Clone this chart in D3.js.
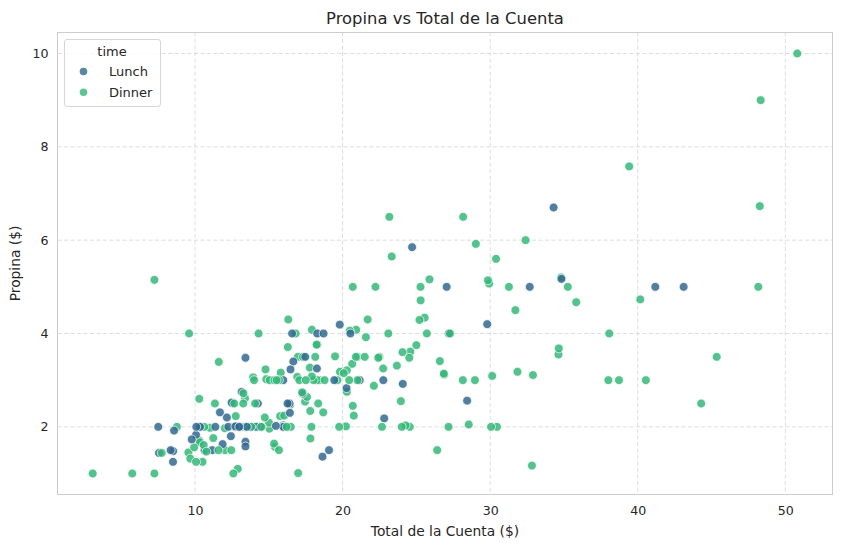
<!DOCTYPE html>
<html>
<head>
<meta charset="utf-8">
<script src="https://cdn.jsdelivr.net/npm/d3@7"></script>
<style>
  body { margin: 0; background: #fff; }
  svg { font-family: "DejaVu Sans", sans-serif; }
</style>
</head>
<body>
<script>
// tips dataset: total bill, tip and meal time, in row order
var bills = [16.99,10.34,21.01,23.68,24.59,25.29,8.77,26.88,15.04,14.78,10.27,35.26,15.42,18.43,14.83,21.58,10.33,16.29,16.97,20.65,
  17.92,20.29,15.77,39.42,19.82,17.81,13.37,12.69,21.7,19.65,9.55,18.35,15.06,20.69,17.78,24.06,16.31,16.93,18.69,31.27,
  16.04,17.46,13.94,9.68,30.4,18.29,22.23,32.4,28.55,18.04,12.54,10.29,34.81,9.94,25.56,19.49,38.01,26.41,11.24,48.27,
  20.29,13.81,11.02,18.29,17.59,20.08,16.45,3.07,20.23,15.01,12.02,17.07,26.86,25.28,14.73,10.51,17.92,27.2,22.76,17.29,
  19.44,16.66,10.07,32.68,15.98,34.83,13.03,18.28,24.71,21.16,28.97,22.49,5.75,16.32,22.75,40.17,27.28,12.03,21.01,12.46,
  11.35,15.38,44.3,22.42,20.92,15.36,20.49,25.21,18.24,14.31,14.0,7.25,38.07,23.95,25.71,17.31,29.93,10.65,12.43,24.08,
  11.69,13.42,14.26,15.95,12.48,29.8,8.52,14.52,11.38,22.82,19.08,20.27,11.17,12.26,18.26,8.51,10.33,14.15,16.0,13.16,
  17.47,34.3,41.19,27.05,16.43,8.35,18.64,11.87,9.78,7.51,14.07,13.13,17.26,24.55,19.77,29.85,48.17,25.0,13.39,16.49,
  21.5,12.66,16.21,13.81,17.51,24.52,20.76,31.71,10.59,10.63,50.81,15.81,7.25,31.85,16.82,32.9,17.89,14.48,9.6,34.63,
  34.65,23.33,45.35,23.17,40.55,20.69,20.9,30.46,18.15,23.1,15.69,19.81,28.44,15.48,16.58,7.56,10.34,43.11,13.0,13.51,
  18.71,12.74,13.0,16.4,20.53,16.47,26.59,38.73,24.27,12.76,30.06,25.89,48.33,13.27,28.17,12.9,28.15,11.59,7.74,30.14,
  12.16,13.42,8.58,15.98,13.42,16.27,10.09,20.45,13.28,22.12,24.01,15.69,11.61,10.77,15.53,10.07,12.6,32.83,35.83,29.03,
  27.18,22.67,17.82,18.78];
var tips = [1.01,1.66,3.5,3.31,3.61,4.71,2.0,3.12,1.96,3.23,1.71,5.0,1.57,3.0,3.02,3.92,1.67,3.71,3.5,3.35,
  4.08,2.75,2.23,7.58,3.18,2.34,2.0,2.0,4.3,3.0,1.45,2.5,3.0,2.45,3.27,3.6,2.0,3.07,2.31,5.0,
  2.24,2.54,3.06,1.32,5.6,3.0,5.0,6.0,2.05,3.0,2.5,2.6,5.2,1.56,4.34,3.51,3.0,1.5,1.76,6.73,
  3.21,2.0,1.98,3.76,2.64,3.15,2.47,1.0,2.01,2.09,1.97,3.0,3.14,5.0,2.2,1.25,3.08,4.0,3.0,2.71,
  3.0,3.4,1.83,5.0,2.03,5.17,2.0,4.0,5.85,3.0,3.0,3.5,1.0,4.3,3.25,4.73,4.0,1.5,3.0,1.5,
  2.5,3.0,2.5,3.48,4.08,1.64,4.06,4.29,3.76,4.0,3.0,1.0,4.0,2.55,4.0,3.5,5.07,1.5,1.8,2.92,
  2.31,1.68,2.5,2.0,2.52,4.2,1.48,2.0,2.0,2.18,1.5,2.83,1.5,2.0,3.25,1.25,2.0,2.0,2.0,2.75,
  3.5,6.7,5.0,5.0,2.3,1.5,1.36,1.63,1.73,2.0,2.5,2.0,2.74,2.0,2.0,5.14,5.0,3.75,2.61,2.0,
  3.5,2.5,2.0,2.0,3.0,3.48,2.24,4.5,1.61,2.0,10.0,3.16,5.15,3.18,4.0,3.11,2.0,2.0,4.0,3.55,
  3.68,5.65,3.5,6.5,3.0,5.0,3.5,2.0,3.5,4.0,1.5,4.19,2.56,2.02,4.0,1.44,2.0,5.0,2.0,2.0,
  4.0,2.01,2.0,2.5,4.0,3.23,3.41,3.0,2.03,2.23,2.0,5.16,9.0,2.5,6.5,1.1,3.0,1.5,1.44,3.09,
  2.2,3.48,1.92,3.0,1.58,2.5,2.0,3.0,2.72,2.88,2.0,3.0,3.39,1.47,3.0,1.25,1.0,1.17,4.67,5.92,
  2.0,2.0,1.75,3.0];
// L = Lunch, D = Dinner
var times = ("DDDDDDDDDDDDDDDDDDDD" + "DDDDDDDDDDDDDDDDDDDD" + "DDDDDDDDDDDDDDDDDDDD" + "DDDDDDDDDDDDDDDDDLLL" +
  "LLLLLLLLLLDDDDDDDDDD" + "DDDDDDDDDDDDDDDDDLLL" + "LLLLLLLLLLLLLLLLLLLL" + "LLLLLLLLLLDDDDDDDDDD" +
  "DDDDDDDDDDDDDDDDDDDD" + "DDDDDDDDDDDLLLLLLLLL" + "LLLLLLDDDDDDDDDDDDDD" + "LLLLLLLDDDDDDDDDDDDD" + "DDDD").split("");

var groups = ['Lunch', 'Dinner'];
var colors = ['#31688e', '#35b779'];
var xTicks = [10, 20, 30, 40, 50];
var yTicks = [2, 4, 6, 8, 10];

var data = bills.map((b, i) => ({bill: b, tip: tips[i], time: times[i] == 'L' ? 'Lunch' : 'Dinner'}));

const w = 841;
const h = 547;
const mLeft = 57.5, mRight = 832.5, mTop = 32.5, mBottom = 494.5;

const svg = d3.select('body').append('svg').attr('width', w).attr('height', h);

var xMin = d3.min(bills), xMax = d3.max(bills);
var yMin = d3.min(tips), yMax = d3.max(tips);
var xPad = (xMax - xMin) * 0.05, yPad = (yMax - yMin) * 0.05;

const xScale = d3.scaleLinear().domain([xMin - xPad, xMax + xPad]).range([mLeft, mRight]);
const yScale = d3.scaleLinear().domain([yMin - yPad, yMax + yPad]).range([mBottom, mTop]);
const color = d3.scaleOrdinal().domain(groups).range(colors);

// grid
svg.append('g').selectAll('line').data(xTicks).enter().append('line')
  .attr('x1', d => xScale(d)).attr('x2', d => xScale(d)).attr('y1', mTop).attr('y2', mBottom)
  .attr('stroke', '#d9d9d9').attr('stroke-dasharray', '4,2.5').attr('stroke-width', 0.9);
svg.append('g').selectAll('line').data(yTicks).enter().append('line')
  .attr('y1', d => yScale(d)).attr('y2', d => yScale(d)).attr('x1', mLeft).attr('x2', mRight)
  .attr('stroke', '#d9d9d9').attr('stroke-dasharray', '4,2.5').attr('stroke-width', 0.9);

// axes, labels only
const xAxis = d3.axisBottom(xScale).tickValues(xTicks).tickSize(0).tickPadding(9);
const yAxis = d3.axisLeft(yScale).tickValues(yTicks).tickSize(0).tickPadding(9);

var gx = svg.append('g').attr('transform', 'translate(0,' + mBottom + ')').call(xAxis);
var gy = svg.append('g').attr('transform', 'translate(' + mLeft + ',0)').call(yAxis);
[gx, gy].forEach(g => {
  g.select('.domain').remove();
  g.selectAll('text').attr('font-size', 12.6).attr('fill', '#262626').attr('font-family', '"DejaVu Sans", sans-serif');
});
gx.selectAll('text').attr('dy', '0.95em');

// frame
svg.append('rect').attr('x', mLeft).attr('y', mTop).attr('width', mRight - mLeft).attr('height', mBottom - mTop)
  .attr('fill', 'none').attr('stroke', '#cccccc').attr('stroke-width', 1);

// points
svg.append('g').selectAll('circle').data(data).enter().append('circle')
  .attr('cx', d => xScale(d.bill)).attr('cy', d => yScale(d.tip)).attr('r', 4.4)
  .attr('fill', d => color(d.time)).attr('fill-opacity', 0.85)
  .attr('stroke', '#fff').attr('stroke-width', 0.7);

// titles
svg.append('text').attr('x', (mLeft + mRight) / 2).attr('y', 24).attr('text-anchor', 'middle')
  .attr('font-size', 16.4).attr('fill', '#262626').text('Propina vs Total de la Cuenta');
svg.append('text').attr('x', (mLeft + mRight) / 2).attr('y', 536).attr('text-anchor', 'middle')
  .attr('font-size', 13.8).attr('fill', '#262626').text('Total de la Cuenta ($)');
svg.append('text').attr('transform', 'translate(20,' + (mTop + mBottom) / 2 + ') rotate(-90)').attr('text-anchor', 'middle')
  .attr('font-size', 13.8).attr('fill', '#262626').text('Propina ($)');

// legend
const legend = svg.append('g');
legend.append('rect').attr('x', 64.5).attr('y', 39.5).attr('width', 96).attr('height', 67).attr('rx', 2.5)
  .attr('fill', '#fff').attr('fill-opacity', 0.8).attr('stroke', '#d6d6d6');
legend.append('text').attr('x', 112).attr('y', 56).attr('text-anchor', 'middle')
  .attr('font-size', 13).attr('fill', '#262626').text('time');
const items = legend.selectAll('g.item').data(groups).enter().append('g').attr('class', 'item')
  .attr('transform', (d, i) => 'translate(0,' + (71.5 + i * 20.7) + ')');
items.append('circle').attr('cx', 83.5).attr('cy', 0).attr('r', 3.8)
  .attr('fill', d => color(d)).attr('fill-opacity', 0.8);
items.append('text').attr('x', 109).attr('y', 0).attr('dy', '0.35em')
  .attr('font-size', 13).attr('fill', '#262626').text(d => d);
</script>
</body>
</html>
